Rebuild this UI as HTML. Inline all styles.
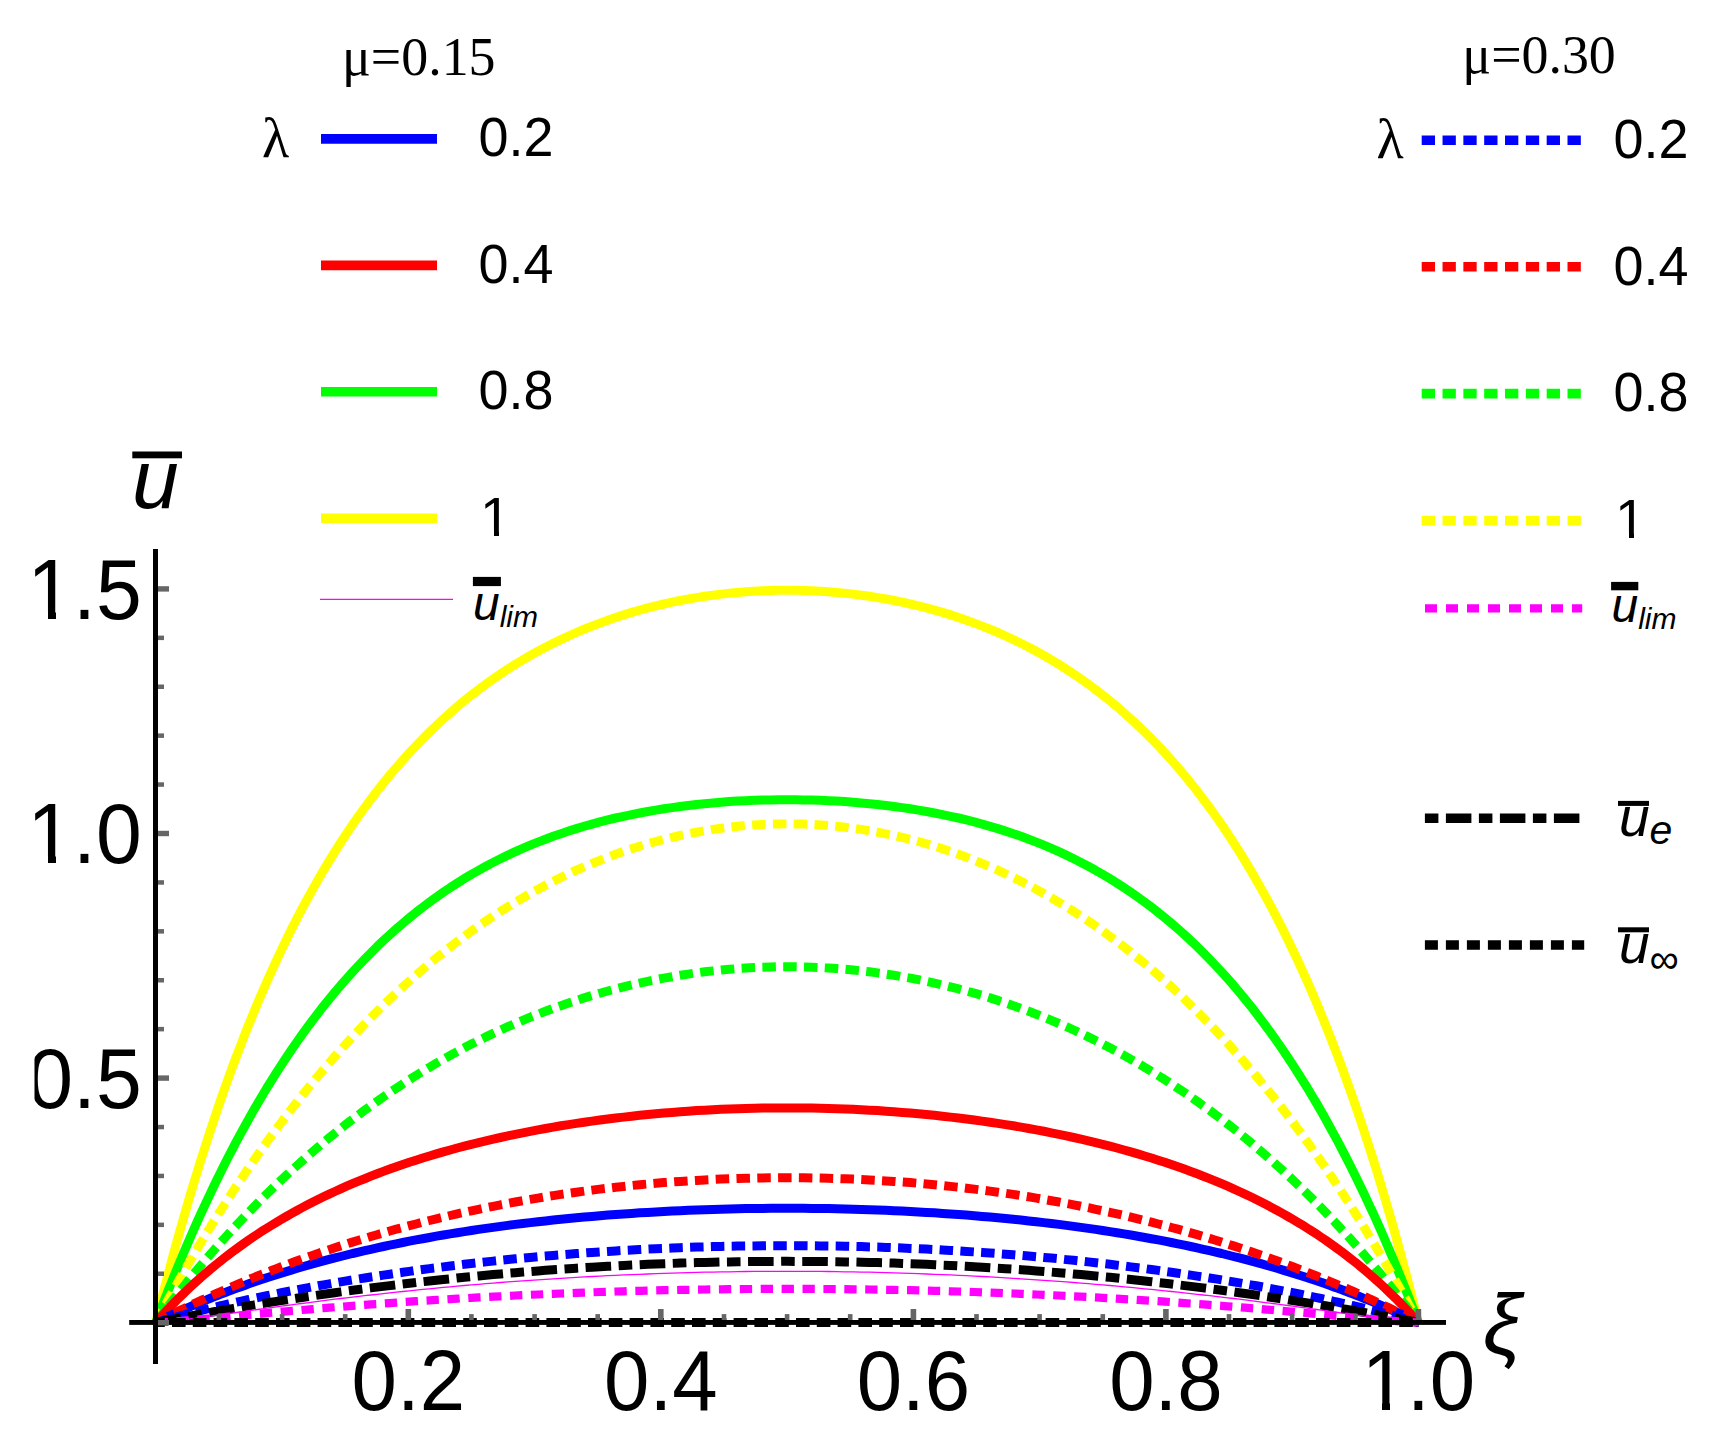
<!DOCTYPE html>
<html><head><meta charset="utf-8"><title>plot</title>
<style>
html,body{margin:0;padding:0;background:#fff}
svg{display:block}
.sans{font-family:"Liberation Sans",Arial,sans-serif}
.serif{font-family:"Liberation Serif","Times New Roman",serif}
.it{font-style:italic}
</style></head><body>
<svg width="1715" height="1440" viewBox="0 0 1715 1440">
<rect width="1715" height="1440" fill="#fff"/>
<defs><clipPath id="cy"><rect x="34.5" y="500" width="130" height="700"/></clipPath></defs>
<g fill="none" stroke-linecap="butt" stroke-linejoin="round">
<path d="M155.8 1322.5 L155.9 1322.3 L156.0 1321.6 L156.3 1320.5 L156.7 1319.0 L157.2 1317.0 L157.7 1314.7 L158.4 1311.9 L159.3 1308.6 L160.2 1305.0 L161.2 1300.9 L162.3 1296.5 L163.6 1291.7 L164.9 1286.5 L166.4 1280.9 L167.9 1274.9 L169.6 1268.6 L171.4 1262.0 L173.2 1255.0 L175.2 1247.7 L177.3 1240.2 L179.5 1232.3 L181.8 1224.1 L184.2 1215.7 L186.7 1207.0 L189.3 1198.1 L192.0 1189.0 L194.8 1179.7 L197.7 1170.2 L200.7 1160.5 L203.9 1150.6 L207.1 1140.6 L210.4 1130.4 L213.8 1120.1 L217.3 1109.8 L220.9 1099.3 L224.6 1088.7 L228.4 1078.1 L232.3 1067.4 L236.3 1056.7 L240.4 1046.0 L244.6 1035.2 L248.8 1024.5 L253.2 1013.8 L257.6 1003.0 L262.2 992.4 L266.8 981.7 L271.6 971.1 L276.4 960.6 L281.3 950.2 L286.3 939.8 L291.3 929.6 L296.5 919.4 L301.7 909.3 L307.1 899.4 L312.5 889.6 L318.0 879.9 L323.5 870.3 L329.2 860.9 L334.9 851.6 L340.7 842.5 L346.6 833.5 L352.5 824.7 L358.6 816.0 L364.7 807.5 L370.9 799.2 L377.1 791.0 L383.4 783.1 L389.8 775.2 L396.3 767.6 L402.8 760.1 L409.4 752.8 L416.0 745.7 L422.7 738.8 L429.5 732.0 L436.4 725.4 L443.3 719.0 L450.2 712.8 L457.2 706.7 L464.3 700.8 L471.4 695.1 L478.6 689.6 L485.9 684.2 L493.2 679.0 L500.5 674.0 L507.9 669.1 L515.3 664.4 L522.8 659.9 L530.3 655.5 L537.9 651.3 L545.5 647.2 L553.2 643.3 L560.9 639.6 L568.6 636.0 L576.4 632.5 L584.2 629.2 L592.0 626.1 L599.9 623.1 L607.8 620.2 L615.7 617.5 L623.7 614.9 L631.7 612.4 L639.7 610.1 L647.8 607.9 L655.8 605.9 L663.9 604.0 L672.1 602.2 L680.2 600.5 L688.3 599.0 L696.5 597.6 L704.7 596.3 L712.9 595.2 L721.1 594.1 L729.3 593.2 L737.6 592.4 L745.8 591.8 L754.1 591.2 L762.3 590.8 L770.6 590.5 L778.8 590.3 L787.1 590.3 L795.4 590.3 L803.6 590.5 L811.9 590.8 L820.1 591.2 L828.4 591.8 L836.6 592.4 L844.9 593.2 L853.1 594.1 L861.3 595.2 L869.5 596.3 L877.7 597.6 L885.9 599.0 L894.0 600.5 L902.1 602.2 L910.3 604.0 L918.4 605.9 L926.4 607.9 L934.5 610.1 L942.5 612.4 L950.5 614.9 L958.5 617.5 L966.4 620.2 L974.3 623.1 L982.2 626.1 L990.0 629.2 L997.8 632.5 L1005.6 636.0 L1013.3 639.6 L1021.0 643.3 L1028.7 647.2 L1036.3 651.3 L1043.9 655.5 L1051.4 659.9 L1058.9 664.4 L1066.3 669.1 L1073.7 674.0 L1081.0 679.0 L1088.3 684.2 L1095.6 689.6 L1102.7 695.1 L1109.9 700.8 L1117.0 706.7 L1124.0 712.8 L1130.9 719.0 L1137.8 725.4 L1144.7 732.0 L1151.5 738.8 L1158.2 745.7 L1164.8 752.8 L1171.4 760.1 L1177.9 767.6 L1184.4 775.2 L1190.8 783.1 L1197.1 791.0 L1203.3 799.2 L1209.5 807.5 L1215.6 816.0 L1221.7 824.7 L1227.6 833.5 L1233.5 842.5 L1239.3 851.6 L1245.0 860.9 L1250.7 870.3 L1256.2 879.9 L1261.7 889.6 L1267.1 899.4 L1272.5 909.3 L1277.7 919.4 L1282.9 929.6 L1287.9 939.8 L1292.9 950.2 L1297.8 960.6 L1302.6 971.1 L1307.4 981.7 L1312.0 992.4 L1316.6 1003.0 L1321.0 1013.8 L1325.4 1024.5 L1329.6 1035.2 L1333.8 1046.0 L1337.9 1056.7 L1341.9 1067.4 L1345.8 1078.1 L1349.6 1088.7 L1353.3 1099.3 L1356.9 1109.8 L1360.4 1120.1 L1363.8 1130.4 L1367.1 1140.6 L1370.3 1150.6 L1373.5 1160.5 L1376.5 1170.2 L1379.4 1179.7 L1382.2 1189.0 L1384.9 1198.1 L1387.5 1207.0 L1390.0 1215.7 L1392.4 1224.1 L1394.7 1232.3 L1396.9 1240.2 L1399.0 1247.7 L1401.0 1255.0 L1402.8 1262.0 L1404.6 1268.6 L1406.3 1274.9 L1407.8 1280.9 L1409.3 1286.5 L1410.6 1291.7 L1411.9 1296.5 L1413.0 1300.9 L1414.0 1305.0 L1414.9 1308.6 L1415.8 1311.9 L1416.5 1314.7 L1417.0 1317.0 L1417.5 1319.0 L1417.9 1320.5 L1418.2 1321.6 L1418.3 1322.3 L1418.4 1322.5" stroke="#ffff00" stroke-width="9"/>
<path d="M155.8 1322.5 L155.9 1322.4 L156.0 1321.9 L156.3 1321.2 L156.7 1320.2 L157.2 1318.9 L157.7 1317.4 L158.4 1315.5 L159.3 1313.4 L160.2 1311.0 L161.2 1308.4 L162.3 1305.4 L163.6 1302.3 L164.9 1298.8 L166.4 1295.1 L167.9 1291.2 L169.6 1287.0 L171.4 1282.6 L173.2 1278.0 L175.2 1273.1 L177.3 1268.0 L179.5 1262.8 L181.8 1257.3 L184.2 1251.6 L186.7 1245.8 L189.3 1239.7 L192.0 1233.5 L194.8 1227.2 L197.7 1220.7 L200.7 1214.0 L203.9 1207.3 L207.1 1200.3 L210.4 1193.3 L213.8 1186.2 L217.3 1179.0 L220.9 1171.7 L224.6 1164.3 L228.4 1156.8 L232.3 1149.3 L236.3 1141.7 L240.4 1134.1 L244.6 1126.5 L248.8 1118.8 L253.2 1111.1 L257.6 1103.4 L262.2 1095.7 L266.8 1088.0 L271.6 1080.4 L276.4 1072.7 L281.3 1065.1 L286.3 1057.5 L291.3 1050.0 L296.5 1042.5 L301.7 1035.1 L307.1 1027.7 L312.5 1020.5 L318.0 1013.3 L323.5 1006.1 L329.2 999.1 L334.9 992.2 L340.7 985.3 L346.6 978.6 L352.5 972.0 L358.6 965.5 L364.7 959.1 L370.9 952.8 L377.1 946.6 L383.4 940.6 L389.8 934.7 L396.3 928.9 L402.8 923.3 L409.4 917.8 L416.0 912.4 L422.7 907.2 L429.5 902.1 L436.4 897.1 L443.3 892.3 L450.2 887.6 L457.2 883.1 L464.3 878.7 L471.4 874.4 L478.6 870.3 L485.9 866.3 L493.2 862.4 L500.5 858.7 L507.9 855.1 L515.3 851.7 L522.8 848.4 L530.3 845.2 L537.9 842.1 L545.5 839.2 L553.2 836.3 L560.9 833.7 L568.6 831.1 L576.4 828.6 L584.2 826.3 L592.0 824.1 L599.9 821.9 L607.8 819.9 L615.7 818.0 L623.7 816.3 L631.7 814.6 L639.7 813.0 L647.8 811.5 L655.8 810.1 L663.9 808.8 L672.1 807.6 L680.2 806.5 L688.3 805.5 L696.5 804.5 L704.7 803.7 L712.9 802.9 L721.1 802.2 L729.3 801.6 L737.6 801.1 L745.8 800.7 L754.1 800.3 L762.3 800.0 L770.6 799.9 L778.8 799.7 L787.1 799.7 L795.4 799.7 L803.6 799.9 L811.9 800.0 L820.1 800.3 L828.4 800.7 L836.6 801.1 L844.9 801.6 L853.1 802.2 L861.3 802.9 L869.5 803.7 L877.7 804.5 L885.9 805.5 L894.0 806.5 L902.1 807.6 L910.3 808.8 L918.4 810.1 L926.4 811.5 L934.5 813.0 L942.5 814.6 L950.5 816.3 L958.5 818.0 L966.4 819.9 L974.3 821.9 L982.2 824.1 L990.0 826.3 L997.8 828.6 L1005.6 831.1 L1013.3 833.7 L1021.0 836.3 L1028.7 839.2 L1036.3 842.1 L1043.9 845.2 L1051.4 848.4 L1058.9 851.7 L1066.3 855.1 L1073.7 858.7 L1081.0 862.4 L1088.3 866.3 L1095.6 870.3 L1102.7 874.4 L1109.9 878.7 L1117.0 883.1 L1124.0 887.6 L1130.9 892.3 L1137.8 897.1 L1144.7 902.1 L1151.5 907.2 L1158.2 912.4 L1164.8 917.8 L1171.4 923.3 L1177.9 928.9 L1184.4 934.7 L1190.8 940.6 L1197.1 946.6 L1203.3 952.8 L1209.5 959.1 L1215.6 965.5 L1221.7 972.0 L1227.6 978.6 L1233.5 985.3 L1239.3 992.2 L1245.0 999.1 L1250.7 1006.1 L1256.2 1013.3 L1261.7 1020.5 L1267.1 1027.7 L1272.5 1035.1 L1277.7 1042.5 L1282.9 1050.0 L1287.9 1057.5 L1292.9 1065.1 L1297.8 1072.7 L1302.6 1080.4 L1307.4 1088.0 L1312.0 1095.7 L1316.6 1103.4 L1321.0 1111.1 L1325.4 1118.8 L1329.6 1126.5 L1333.8 1134.1 L1337.9 1141.7 L1341.9 1149.3 L1345.8 1156.8 L1349.6 1164.3 L1353.3 1171.7 L1356.9 1179.0 L1360.4 1186.2 L1363.8 1193.3 L1367.1 1200.3 L1370.3 1207.3 L1373.5 1214.0 L1376.5 1220.7 L1379.4 1227.2 L1382.2 1233.5 L1384.9 1239.7 L1387.5 1245.8 L1390.0 1251.6 L1392.4 1257.3 L1394.7 1262.8 L1396.9 1268.0 L1399.0 1273.1 L1401.0 1278.0 L1402.8 1282.6 L1404.6 1287.0 L1406.3 1291.2 L1407.8 1295.1 L1409.3 1298.8 L1410.6 1302.3 L1411.9 1305.4 L1413.0 1308.4 L1414.0 1311.0 L1414.9 1313.4 L1415.8 1315.5 L1416.5 1317.4 L1417.0 1318.9 L1417.5 1320.2 L1417.9 1321.2 L1418.2 1321.9 L1418.3 1322.4 L1418.4 1322.5" stroke="#00ff00" stroke-width="9"/>
<path d="M155.8 1322.5 L155.9 1322.4 L156.0 1322.1 L156.3 1321.6 L156.7 1320.9 L157.2 1320.0 L157.7 1318.8 L158.4 1317.5 L159.3 1316.0 L160.2 1314.3 L161.2 1312.4 L162.3 1310.3 L163.6 1308.0 L164.9 1305.6 L166.4 1302.9 L167.9 1300.0 L169.6 1297.0 L171.4 1293.8 L173.2 1290.4 L175.2 1286.9 L177.3 1283.2 L179.5 1279.3 L181.8 1275.2 L184.2 1271.1 L186.7 1266.7 L189.3 1262.2 L192.0 1257.6 L194.8 1252.8 L197.7 1247.9 L200.7 1242.8 L203.9 1237.7 L207.1 1232.4 L210.4 1227.0 L213.8 1221.4 L217.3 1215.8 L220.9 1210.1 L224.6 1204.3 L228.4 1198.4 L232.3 1192.4 L236.3 1186.3 L240.4 1180.2 L244.6 1174.0 L248.8 1167.7 L253.2 1161.3 L257.6 1155.0 L262.2 1148.5 L266.8 1142.0 L271.6 1135.5 L276.4 1129.0 L281.3 1122.4 L286.3 1115.8 L291.3 1109.2 L296.5 1102.6 L301.7 1095.9 L307.1 1089.3 L312.5 1082.7 L318.0 1076.1 L323.5 1069.5 L329.2 1062.9 L334.9 1056.3 L340.7 1049.8 L346.6 1043.3 L352.5 1036.8 L358.6 1030.4 L364.7 1024.0 L370.9 1017.7 L377.1 1011.4 L383.4 1005.2 L389.8 999.0 L396.3 992.9 L402.8 986.9 L409.4 981.0 L416.0 975.1 L422.7 969.3 L429.5 963.6 L436.4 957.9 L443.3 952.4 L450.2 946.9 L457.2 941.5 L464.3 936.3 L471.4 931.1 L478.6 926.0 L485.9 921.1 L493.2 916.2 L500.5 911.4 L507.9 906.8 L515.3 902.3 L522.8 897.8 L530.3 893.5 L537.9 889.4 L545.5 885.3 L553.2 881.3 L560.9 877.5 L568.6 873.8 L576.4 870.2 L584.2 866.8 L592.0 863.5 L599.9 860.3 L607.8 857.2 L615.7 854.3 L623.7 851.4 L631.7 848.8 L639.7 846.2 L647.8 843.8 L655.8 841.5 L663.9 839.4 L672.1 837.4 L680.2 835.5 L688.3 833.8 L696.5 832.2 L704.7 830.8 L712.9 829.4 L721.1 828.3 L729.3 827.2 L737.6 826.3 L745.8 825.5 L754.1 824.9 L762.3 824.4 L770.6 824.1 L778.8 823.9 L787.1 823.8 L795.4 823.9 L803.6 824.1 L811.9 824.4 L820.1 824.9 L828.4 825.5 L836.6 826.3 L844.9 827.2 L853.1 828.3 L861.3 829.4 L869.5 830.8 L877.7 832.2 L885.9 833.8 L894.0 835.5 L902.1 837.4 L910.3 839.4 L918.4 841.5 L926.4 843.8 L934.5 846.2 L942.5 848.8 L950.5 851.4 L958.5 854.3 L966.4 857.2 L974.3 860.3 L982.2 863.5 L990.0 866.8 L997.8 870.2 L1005.6 873.8 L1013.3 877.5 L1021.0 881.3 L1028.7 885.3 L1036.3 889.4 L1043.9 893.5 L1051.4 897.8 L1058.9 902.3 L1066.3 906.8 L1073.7 911.4 L1081.0 916.2 L1088.3 921.1 L1095.6 926.0 L1102.7 931.1 L1109.9 936.3 L1117.0 941.5 L1124.0 946.9 L1130.9 952.4 L1137.8 957.9 L1144.7 963.6 L1151.5 969.3 L1158.2 975.1 L1164.8 981.0 L1171.4 986.9 L1177.9 992.9 L1184.4 999.0 L1190.8 1005.2 L1197.1 1011.4 L1203.3 1017.7 L1209.5 1024.0 L1215.6 1030.4 L1221.7 1036.8 L1227.6 1043.3 L1233.5 1049.8 L1239.3 1056.3 L1245.0 1062.9 L1250.7 1069.5 L1256.2 1076.1 L1261.7 1082.7 L1267.1 1089.3 L1272.5 1095.9 L1277.7 1102.6 L1282.9 1109.2 L1287.9 1115.8 L1292.9 1122.4 L1297.8 1129.0 L1302.6 1135.5 L1307.4 1142.0 L1312.0 1148.5 L1316.6 1155.0 L1321.0 1161.3 L1325.4 1167.7 L1329.6 1174.0 L1333.8 1180.2 L1337.9 1186.3 L1341.9 1192.4 L1345.8 1198.4 L1349.6 1204.3 L1353.3 1210.1 L1356.9 1215.8 L1360.4 1221.4 L1363.8 1227.0 L1367.1 1232.4 L1370.3 1237.7 L1373.5 1242.8 L1376.5 1247.9 L1379.4 1252.8 L1382.2 1257.6 L1384.9 1262.2 L1387.5 1266.7 L1390.0 1271.1 L1392.4 1275.2 L1394.7 1279.3 L1396.9 1283.2 L1399.0 1286.9 L1401.0 1290.4 L1402.8 1293.8 L1404.6 1297.0 L1406.3 1300.0 L1407.8 1302.9 L1409.3 1305.6 L1410.6 1308.0 L1411.9 1310.3 L1413.0 1312.4 L1414.0 1314.3 L1414.9 1316.0 L1415.8 1317.5 L1416.5 1318.8 L1417.0 1320.0 L1417.5 1320.9 L1417.9 1321.6 L1418.2 1322.1 L1418.3 1322.4 L1418.4 1322.5" stroke="#ffff00" stroke-width="9" stroke-dasharray="13.5 7.3"/>
<path d="M155.8 1322.5 L155.9 1322.4 L156.0 1322.2 L156.3 1321.8 L156.7 1321.3 L157.2 1320.7 L157.7 1319.9 L158.4 1318.9 L159.3 1317.9 L160.2 1316.6 L161.2 1315.3 L162.3 1313.8 L163.6 1312.1 L164.9 1310.4 L166.4 1308.5 L167.9 1306.4 L169.6 1304.3 L171.4 1302.0 L173.2 1299.6 L175.2 1297.0 L177.3 1294.4 L179.5 1291.6 L181.8 1288.7 L184.2 1285.7 L186.7 1282.6 L189.3 1279.4 L192.0 1276.1 L194.8 1272.7 L197.7 1269.2 L200.7 1265.6 L203.9 1261.9 L207.1 1258.1 L210.4 1254.3 L213.8 1250.3 L217.3 1246.3 L220.9 1242.3 L224.6 1238.1 L228.4 1233.9 L232.3 1229.7 L236.3 1225.4 L240.4 1221.0 L244.6 1216.6 L248.8 1212.1 L253.2 1207.6 L257.6 1203.1 L262.2 1198.5 L266.8 1193.9 L271.6 1189.3 L276.4 1184.7 L281.3 1180.0 L286.3 1175.3 L291.3 1170.6 L296.5 1166.0 L301.7 1161.3 L307.1 1156.6 L312.5 1151.9 L318.0 1147.2 L323.5 1142.5 L329.2 1137.8 L334.9 1133.2 L340.7 1128.5 L346.6 1123.9 L352.5 1119.3 L358.6 1114.8 L364.7 1110.2 L370.9 1105.8 L377.1 1101.3 L383.4 1096.9 L389.8 1092.5 L396.3 1088.2 L402.8 1083.9 L409.4 1079.6 L416.0 1075.5 L422.7 1071.3 L429.5 1067.3 L436.4 1063.2 L443.3 1059.3 L450.2 1055.4 L457.2 1051.6 L464.3 1047.8 L471.4 1044.1 L478.6 1040.5 L485.9 1036.9 L493.2 1033.4 L500.5 1030.0 L507.9 1026.7 L515.3 1023.5 L522.8 1020.3 L530.3 1017.2 L537.9 1014.2 L545.5 1011.3 L553.2 1008.4 L560.9 1005.7 L568.6 1003.0 L576.4 1000.4 L584.2 997.9 L592.0 995.5 L599.9 993.2 L607.8 991.0 L615.7 988.9 L623.7 986.9 L631.7 984.9 L639.7 983.1 L647.8 981.3 L655.8 979.7 L663.9 978.1 L672.1 976.7 L680.2 975.3 L688.3 974.1 L696.5 972.9 L704.7 971.8 L712.9 970.9 L721.1 970.0 L729.3 969.3 L737.6 968.6 L745.8 968.1 L754.1 967.6 L762.3 967.2 L770.6 967.0 L778.8 966.8 L787.1 966.8 L795.4 966.8 L803.6 967.0 L811.9 967.2 L820.1 967.6 L828.4 968.1 L836.6 968.6 L844.9 969.3 L853.1 970.0 L861.3 970.9 L869.5 971.8 L877.7 972.9 L885.9 974.1 L894.0 975.3 L902.1 976.7 L910.3 978.1 L918.4 979.7 L926.4 981.3 L934.5 983.1 L942.5 984.9 L950.5 986.9 L958.5 988.9 L966.4 991.0 L974.3 993.2 L982.2 995.5 L990.0 997.9 L997.8 1000.4 L1005.6 1003.0 L1013.3 1005.7 L1021.0 1008.4 L1028.7 1011.3 L1036.3 1014.2 L1043.9 1017.2 L1051.4 1020.3 L1058.9 1023.5 L1066.3 1026.7 L1073.7 1030.0 L1081.0 1033.4 L1088.3 1036.9 L1095.6 1040.5 L1102.7 1044.1 L1109.9 1047.8 L1117.0 1051.6 L1124.0 1055.4 L1130.9 1059.3 L1137.8 1063.2 L1144.7 1067.3 L1151.5 1071.3 L1158.2 1075.5 L1164.8 1079.6 L1171.4 1083.9 L1177.9 1088.2 L1184.4 1092.5 L1190.8 1096.9 L1197.1 1101.3 L1203.3 1105.8 L1209.5 1110.2 L1215.6 1114.8 L1221.7 1119.3 L1227.6 1123.9 L1233.5 1128.5 L1239.3 1133.2 L1245.0 1137.8 L1250.7 1142.5 L1256.2 1147.2 L1261.7 1151.9 L1267.1 1156.6 L1272.5 1161.3 L1277.7 1166.0 L1282.9 1170.6 L1287.9 1175.3 L1292.9 1180.0 L1297.8 1184.7 L1302.6 1189.3 L1307.4 1193.9 L1312.0 1198.5 L1316.6 1203.1 L1321.0 1207.6 L1325.4 1212.1 L1329.6 1216.6 L1333.8 1221.0 L1337.9 1225.4 L1341.9 1229.7 L1345.8 1233.9 L1349.6 1238.1 L1353.3 1242.3 L1356.9 1246.3 L1360.4 1250.3 L1363.8 1254.3 L1367.1 1258.1 L1370.3 1261.9 L1373.5 1265.6 L1376.5 1269.2 L1379.4 1272.7 L1382.2 1276.1 L1384.9 1279.4 L1387.5 1282.6 L1390.0 1285.7 L1392.4 1288.7 L1394.7 1291.6 L1396.9 1294.4 L1399.0 1297.0 L1401.0 1299.6 L1402.8 1302.0 L1404.6 1304.3 L1406.3 1306.4 L1407.8 1308.5 L1409.3 1310.4 L1410.6 1312.1 L1411.9 1313.8 L1413.0 1315.3 L1414.0 1316.6 L1414.9 1317.9 L1415.8 1318.9 L1416.5 1319.9 L1417.0 1320.7 L1417.5 1321.3 L1417.9 1321.8 L1418.2 1322.2 L1418.3 1322.4 L1418.4 1322.5" stroke="#00ff00" stroke-width="9" stroke-dasharray="13.5 7.3"/>
<path d="M155.8 1322.5 L155.9 1322.4 L156.0 1322.3 L156.3 1322.0 L156.7 1321.5 L157.2 1321.0 L157.7 1320.3 L158.4 1319.5 L159.3 1318.6 L160.2 1317.6 L161.2 1316.5 L162.3 1315.3 L163.6 1313.9 L164.9 1312.5 L166.4 1310.9 L167.9 1309.3 L169.6 1307.5 L171.4 1305.7 L173.2 1303.8 L175.2 1301.7 L177.3 1299.6 L179.5 1297.5 L181.8 1295.2 L184.2 1292.9 L186.7 1290.5 L189.3 1288.0 L192.0 1285.5 L194.8 1282.9 L197.7 1280.3 L200.7 1277.6 L203.9 1274.9 L207.1 1272.1 L210.4 1269.3 L213.8 1266.5 L217.3 1263.6 L220.9 1260.7 L224.6 1257.8 L228.4 1254.9 L232.3 1251.9 L236.3 1249.0 L240.4 1246.0 L244.6 1243.0 L248.8 1240.0 L253.2 1237.1 L257.6 1234.1 L262.2 1231.1 L266.8 1228.2 L271.6 1225.2 L276.4 1222.3 L281.3 1219.4 L286.3 1216.5 L291.3 1213.6 L296.5 1210.7 L301.7 1207.9 L307.1 1205.1 L312.5 1202.3 L318.0 1199.5 L323.5 1196.8 L329.2 1194.1 L334.9 1191.5 L340.7 1188.8 L346.6 1186.2 L352.5 1183.7 L358.6 1181.1 L364.7 1178.7 L370.9 1176.2 L377.1 1173.8 L383.4 1171.4 L389.8 1169.1 L396.3 1166.8 L402.8 1164.6 L409.4 1162.3 L416.0 1160.2 L422.7 1158.0 L429.5 1156.0 L436.4 1153.9 L443.3 1151.9 L450.2 1150.0 L457.2 1148.0 L464.3 1146.2 L471.4 1144.3 L478.6 1142.6 L485.9 1140.8 L493.2 1139.1 L500.5 1137.5 L507.9 1135.9 L515.3 1134.3 L522.8 1132.8 L530.3 1131.3 L537.9 1129.9 L545.5 1128.5 L553.2 1127.1 L560.9 1125.8 L568.6 1124.6 L576.4 1123.4 L584.2 1122.2 L592.0 1121.1 L599.9 1120.0 L607.8 1119.0 L615.7 1118.0 L623.7 1117.1 L631.7 1116.2 L639.7 1115.3 L647.8 1114.5 L655.8 1113.8 L663.9 1113.0 L672.1 1112.4 L680.2 1111.8 L688.3 1111.2 L696.5 1110.6 L704.7 1110.2 L712.9 1109.7 L721.1 1109.3 L729.3 1109.0 L737.6 1108.7 L745.8 1108.4 L754.1 1108.2 L762.3 1108.1 L770.6 1107.9 L778.8 1107.9 L787.1 1107.9 L795.4 1107.9 L803.6 1107.9 L811.9 1108.1 L820.1 1108.2 L828.4 1108.4 L836.6 1108.7 L844.9 1109.0 L853.1 1109.3 L861.3 1109.7 L869.5 1110.2 L877.7 1110.6 L885.9 1111.2 L894.0 1111.8 L902.1 1112.4 L910.3 1113.0 L918.4 1113.8 L926.4 1114.5 L934.5 1115.3 L942.5 1116.2 L950.5 1117.1 L958.5 1118.0 L966.4 1119.0 L974.3 1120.0 L982.2 1121.1 L990.0 1122.2 L997.8 1123.4 L1005.6 1124.6 L1013.3 1125.8 L1021.0 1127.1 L1028.7 1128.5 L1036.3 1129.9 L1043.9 1131.3 L1051.4 1132.8 L1058.9 1134.3 L1066.3 1135.9 L1073.7 1137.5 L1081.0 1139.1 L1088.3 1140.8 L1095.6 1142.6 L1102.7 1144.3 L1109.9 1146.2 L1117.0 1148.0 L1124.0 1150.0 L1130.9 1151.9 L1137.8 1153.9 L1144.7 1156.0 L1151.5 1158.0 L1158.2 1160.2 L1164.8 1162.3 L1171.4 1164.6 L1177.9 1166.8 L1184.4 1169.1 L1190.8 1171.4 L1197.1 1173.8 L1203.3 1176.2 L1209.5 1178.7 L1215.6 1181.1 L1221.7 1183.7 L1227.6 1186.2 L1233.5 1188.8 L1239.3 1191.5 L1245.0 1194.1 L1250.7 1196.8 L1256.2 1199.5 L1261.7 1202.3 L1267.1 1205.1 L1272.5 1207.9 L1277.7 1210.7 L1282.9 1213.6 L1287.9 1216.5 L1292.9 1219.4 L1297.8 1222.3 L1302.6 1225.2 L1307.4 1228.2 L1312.0 1231.1 L1316.6 1234.1 L1321.0 1237.1 L1325.4 1240.0 L1329.6 1243.0 L1333.8 1246.0 L1337.9 1249.0 L1341.9 1251.9 L1345.8 1254.9 L1349.6 1257.8 L1353.3 1260.7 L1356.9 1263.6 L1360.4 1266.5 L1363.8 1269.3 L1367.1 1272.1 L1370.3 1274.9 L1373.5 1277.6 L1376.5 1280.3 L1379.4 1282.9 L1382.2 1285.5 L1384.9 1288.0 L1387.5 1290.5 L1390.0 1292.9 L1392.4 1295.2 L1394.7 1297.5 L1396.9 1299.6 L1399.0 1301.7 L1401.0 1303.8 L1402.8 1305.7 L1404.6 1307.5 L1406.3 1309.3 L1407.8 1310.9 L1409.3 1312.5 L1410.6 1313.9 L1411.9 1315.3 L1413.0 1316.5 L1414.0 1317.6 L1414.9 1318.6 L1415.8 1319.5 L1416.5 1320.3 L1417.0 1321.0 L1417.5 1321.5 L1417.9 1322.0 L1418.2 1322.3 L1418.3 1322.4 L1418.4 1322.5" stroke="#ff0000" stroke-width="9"/>
<path d="M155.8 1322.5 L155.9 1322.5 L156.0 1322.4 L156.3 1322.3 L156.7 1322.1 L157.2 1321.8 L157.7 1321.6 L158.4 1321.2 L159.3 1320.8 L160.2 1320.4 L161.2 1319.9 L162.3 1319.3 L163.6 1318.8 L164.9 1318.1 L166.4 1317.4 L167.9 1316.7 L169.6 1315.9 L171.4 1315.1 L173.2 1314.2 L175.2 1313.3 L177.3 1312.4 L179.5 1311.4 L181.8 1310.4 L184.2 1309.3 L186.7 1308.2 L189.3 1307.1 L192.0 1305.9 L194.8 1304.7 L197.7 1303.5 L200.7 1302.2 L203.9 1300.9 L207.1 1299.6 L210.4 1298.3 L213.8 1296.9 L217.3 1295.5 L220.9 1294.1 L224.6 1292.7 L228.4 1291.3 L232.3 1289.8 L236.3 1288.3 L240.4 1286.9 L244.6 1285.4 L248.8 1283.8 L253.2 1282.3 L257.6 1280.8 L262.2 1279.3 L266.8 1277.7 L271.6 1276.2 L276.4 1274.7 L281.3 1273.1 L286.3 1271.6 L291.3 1270.1 L296.5 1268.5 L301.7 1267.0 L307.1 1265.5 L312.5 1263.9 L318.0 1262.4 L323.5 1260.9 L329.2 1259.4 L334.9 1257.9 L340.7 1256.5 L346.6 1255.0 L352.5 1253.5 L358.6 1252.1 L364.7 1250.7 L370.9 1249.3 L377.1 1247.9 L383.4 1246.5 L389.8 1245.2 L396.3 1243.8 L402.8 1242.5 L409.4 1241.2 L416.0 1239.9 L422.7 1238.7 L429.5 1237.5 L436.4 1236.2 L443.3 1235.0 L450.2 1233.9 L457.2 1232.7 L464.3 1231.6 L471.4 1230.5 L478.6 1229.4 L485.9 1228.4 L493.2 1227.4 L500.5 1226.4 L507.9 1225.4 L515.3 1224.4 L522.8 1223.5 L530.3 1222.6 L537.9 1221.7 L545.5 1220.9 L553.2 1220.1 L560.9 1219.3 L568.6 1218.5 L576.4 1217.8 L584.2 1217.1 L592.0 1216.4 L599.9 1215.7 L607.8 1215.1 L615.7 1214.5 L623.7 1213.9 L631.7 1213.4 L639.7 1212.8 L647.8 1212.4 L655.8 1211.9 L663.9 1211.5 L672.1 1211.0 L680.2 1210.7 L688.3 1210.3 L696.5 1210.0 L704.7 1209.7 L712.9 1209.4 L721.1 1209.2 L729.3 1209.0 L737.6 1208.8 L745.8 1208.6 L754.1 1208.5 L762.3 1208.4 L770.6 1208.3 L778.8 1208.3 L787.1 1208.3 L795.4 1208.3 L803.6 1208.3 L811.9 1208.4 L820.1 1208.5 L828.4 1208.6 L836.6 1208.8 L844.9 1209.0 L853.1 1209.2 L861.3 1209.4 L869.5 1209.7 L877.7 1210.0 L885.9 1210.3 L894.0 1210.7 L902.1 1211.0 L910.3 1211.5 L918.4 1211.9 L926.4 1212.4 L934.5 1212.8 L942.5 1213.4 L950.5 1213.9 L958.5 1214.5 L966.4 1215.1 L974.3 1215.7 L982.2 1216.4 L990.0 1217.1 L997.8 1217.8 L1005.6 1218.5 L1013.3 1219.3 L1021.0 1220.1 L1028.7 1220.9 L1036.3 1221.7 L1043.9 1222.6 L1051.4 1223.5 L1058.9 1224.4 L1066.3 1225.4 L1073.7 1226.4 L1081.0 1227.4 L1088.3 1228.4 L1095.6 1229.4 L1102.7 1230.5 L1109.9 1231.6 L1117.0 1232.7 L1124.0 1233.9 L1130.9 1235.0 L1137.8 1236.2 L1144.7 1237.5 L1151.5 1238.7 L1158.2 1239.9 L1164.8 1241.2 L1171.4 1242.5 L1177.9 1243.8 L1184.4 1245.2 L1190.8 1246.5 L1197.1 1247.9 L1203.3 1249.3 L1209.5 1250.7 L1215.6 1252.1 L1221.7 1253.5 L1227.6 1255.0 L1233.5 1256.5 L1239.3 1257.9 L1245.0 1259.4 L1250.7 1260.9 L1256.2 1262.4 L1261.7 1263.9 L1267.1 1265.5 L1272.5 1267.0 L1277.7 1268.5 L1282.9 1270.1 L1287.9 1271.6 L1292.9 1273.1 L1297.8 1274.7 L1302.6 1276.2 L1307.4 1277.7 L1312.0 1279.3 L1316.6 1280.8 L1321.0 1282.3 L1325.4 1283.8 L1329.6 1285.4 L1333.8 1286.9 L1337.9 1288.3 L1341.9 1289.8 L1345.8 1291.3 L1349.6 1292.7 L1353.3 1294.1 L1356.9 1295.5 L1360.4 1296.9 L1363.8 1298.3 L1367.1 1299.6 L1370.3 1300.9 L1373.5 1302.2 L1376.5 1303.5 L1379.4 1304.7 L1382.2 1305.9 L1384.9 1307.1 L1387.5 1308.2 L1390.0 1309.3 L1392.4 1310.4 L1394.7 1311.4 L1396.9 1312.4 L1399.0 1313.3 L1401.0 1314.2 L1402.8 1315.1 L1404.6 1315.9 L1406.3 1316.7 L1407.8 1317.4 L1409.3 1318.1 L1410.6 1318.8 L1411.9 1319.3 L1413.0 1319.9 L1414.0 1320.4 L1414.9 1320.8 L1415.8 1321.2 L1416.5 1321.6 L1417.0 1321.8 L1417.5 1322.1 L1417.9 1322.3 L1418.2 1322.4 L1418.3 1322.5 L1418.4 1322.5" stroke="#0000ff" stroke-width="9"/>
<path d="M155.8 1322.5 L155.9 1322.5 L156.0 1322.4 L156.3 1322.3 L156.7 1322.1 L157.2 1321.8 L157.7 1321.5 L158.4 1321.1 L159.3 1320.7 L160.2 1320.3 L161.2 1319.7 L162.3 1319.2 L163.6 1318.5 L164.9 1317.9 L166.4 1317.1 L167.9 1316.4 L169.6 1315.5 L171.4 1314.7 L173.2 1313.7 L175.2 1312.8 L177.3 1311.7 L179.5 1310.7 L181.8 1309.6 L184.2 1308.4 L186.7 1307.2 L189.3 1306.0 L192.0 1304.7 L194.8 1303.4 L197.7 1302.0 L200.7 1300.6 L203.9 1299.2 L207.1 1297.7 L210.4 1296.2 L213.8 1294.7 L217.3 1293.1 L220.9 1291.5 L224.6 1289.9 L228.4 1288.2 L232.3 1286.6 L236.3 1284.9 L240.4 1283.1 L244.6 1281.4 L248.8 1279.6 L253.2 1277.8 L257.6 1276.0 L262.2 1274.2 L266.8 1272.4 L271.6 1270.5 L276.4 1268.7 L281.3 1266.8 L286.3 1264.9 L291.3 1263.0 L296.5 1261.1 L301.7 1259.2 L307.1 1257.3 L312.5 1255.4 L318.0 1253.5 L323.5 1251.6 L329.2 1249.7 L334.9 1247.8 L340.7 1245.9 L346.6 1244.0 L352.5 1242.1 L358.6 1240.3 L364.7 1238.4 L370.9 1236.5 L377.1 1234.7 L383.4 1232.9 L389.8 1231.0 L396.3 1229.2 L402.8 1227.5 L409.4 1225.7 L416.0 1224.0 L422.7 1222.2 L429.5 1220.5 L436.4 1218.8 L443.3 1217.2 L450.2 1215.5 L457.2 1213.9 L464.3 1212.3 L471.4 1210.8 L478.6 1209.3 L485.9 1207.7 L493.2 1206.3 L500.5 1204.8 L507.9 1203.4 L515.3 1202.0 L522.8 1200.7 L530.3 1199.4 L537.9 1198.1 L545.5 1196.8 L553.2 1195.6 L560.9 1194.4 L568.6 1193.3 L576.4 1192.2 L584.2 1191.1 L592.0 1190.1 L599.9 1189.1 L607.8 1188.2 L615.7 1187.2 L623.7 1186.4 L631.7 1185.5 L639.7 1184.7 L647.8 1184.0 L655.8 1183.3 L663.9 1182.6 L672.1 1182.0 L680.2 1181.4 L688.3 1180.9 L696.5 1180.4 L704.7 1179.9 L712.9 1179.5 L721.1 1179.1 L729.3 1178.8 L737.6 1178.5 L745.8 1178.3 L754.1 1178.1 L762.3 1177.9 L770.6 1177.8 L778.8 1177.7 L787.1 1177.7 L795.4 1177.7 L803.6 1177.8 L811.9 1177.9 L820.1 1178.1 L828.4 1178.3 L836.6 1178.5 L844.9 1178.8 L853.1 1179.1 L861.3 1179.5 L869.5 1179.9 L877.7 1180.4 L885.9 1180.9 L894.0 1181.4 L902.1 1182.0 L910.3 1182.6 L918.4 1183.3 L926.4 1184.0 L934.5 1184.7 L942.5 1185.5 L950.5 1186.4 L958.5 1187.2 L966.4 1188.2 L974.3 1189.1 L982.2 1190.1 L990.0 1191.1 L997.8 1192.2 L1005.6 1193.3 L1013.3 1194.4 L1021.0 1195.6 L1028.7 1196.8 L1036.3 1198.1 L1043.9 1199.4 L1051.4 1200.7 L1058.9 1202.0 L1066.3 1203.4 L1073.7 1204.8 L1081.0 1206.3 L1088.3 1207.7 L1095.6 1209.3 L1102.7 1210.8 L1109.9 1212.3 L1117.0 1213.9 L1124.0 1215.5 L1130.9 1217.2 L1137.8 1218.8 L1144.7 1220.5 L1151.5 1222.2 L1158.2 1224.0 L1164.8 1225.7 L1171.4 1227.5 L1177.9 1229.2 L1184.4 1231.0 L1190.8 1232.9 L1197.1 1234.7 L1203.3 1236.5 L1209.5 1238.4 L1215.6 1240.3 L1221.7 1242.1 L1227.6 1244.0 L1233.5 1245.9 L1239.3 1247.8 L1245.0 1249.7 L1250.7 1251.6 L1256.2 1253.5 L1261.7 1255.4 L1267.1 1257.3 L1272.5 1259.2 L1277.7 1261.1 L1282.9 1263.0 L1287.9 1264.9 L1292.9 1266.8 L1297.8 1268.7 L1302.6 1270.5 L1307.4 1272.4 L1312.0 1274.2 L1316.6 1276.0 L1321.0 1277.8 L1325.4 1279.6 L1329.6 1281.4 L1333.8 1283.1 L1337.9 1284.9 L1341.9 1286.6 L1345.8 1288.2 L1349.6 1289.9 L1353.3 1291.5 L1356.9 1293.1 L1360.4 1294.7 L1363.8 1296.2 L1367.1 1297.7 L1370.3 1299.2 L1373.5 1300.6 L1376.5 1302.0 L1379.4 1303.4 L1382.2 1304.7 L1384.9 1306.0 L1387.5 1307.2 L1390.0 1308.4 L1392.4 1309.6 L1394.7 1310.7 L1396.9 1311.7 L1399.0 1312.8 L1401.0 1313.7 L1402.8 1314.7 L1404.6 1315.5 L1406.3 1316.4 L1407.8 1317.1 L1409.3 1317.9 L1410.6 1318.5 L1411.9 1319.2 L1413.0 1319.7 L1414.0 1320.3 L1414.9 1320.7 L1415.8 1321.1 L1416.5 1321.5 L1417.0 1321.8 L1417.5 1322.1 L1417.9 1322.3 L1418.2 1322.4 L1418.3 1322.5 L1418.4 1322.5" stroke="#ff0000" stroke-width="9" stroke-dasharray="13.5 7.3"/>
<path d="M155.8 1322.5 L155.9 1322.5 L156.0 1322.4 L156.3 1322.4 L156.7 1322.3 L157.2 1322.1 L157.7 1321.9 L158.4 1321.7 L159.3 1321.5 L160.2 1321.3 L161.2 1321.0 L162.3 1320.7 L163.6 1320.3 L164.9 1319.9 L166.4 1319.5 L167.9 1319.1 L169.6 1318.7 L171.4 1318.2 L173.2 1317.7 L175.2 1317.1 L177.3 1316.6 L179.5 1316.0 L181.8 1315.4 L184.2 1314.8 L186.7 1314.1 L189.3 1313.5 L192.0 1312.8 L194.8 1312.1 L197.7 1311.3 L200.7 1310.6 L203.9 1309.8 L207.1 1309.0 L210.4 1308.2 L213.8 1307.4 L217.3 1306.6 L220.9 1305.7 L224.6 1304.9 L228.4 1304.0 L232.3 1303.1 L236.3 1302.2 L240.4 1301.3 L244.6 1300.4 L248.8 1299.5 L253.2 1298.5 L257.6 1297.6 L262.2 1296.6 L266.8 1295.7 L271.6 1294.7 L276.4 1293.7 L281.3 1292.7 L286.3 1291.8 L291.3 1290.8 L296.5 1289.8 L301.7 1288.8 L307.1 1287.8 L312.5 1286.8 L318.0 1285.8 L323.5 1284.9 L329.2 1283.9 L334.9 1282.9 L340.7 1281.9 L346.6 1280.9 L352.5 1279.9 L358.6 1278.9 L364.7 1278.0 L370.9 1277.0 L377.1 1276.1 L383.4 1275.1 L389.8 1274.2 L396.3 1273.2 L402.8 1272.3 L409.4 1271.4 L416.0 1270.4 L422.7 1269.5 L429.5 1268.6 L436.4 1267.8 L443.3 1266.9 L450.2 1266.0 L457.2 1265.2 L464.3 1264.3 L471.4 1263.5 L478.6 1262.7 L485.9 1261.9 L493.2 1261.1 L500.5 1260.3 L507.9 1259.6 L515.3 1258.8 L522.8 1258.1 L530.3 1257.4 L537.9 1256.7 L545.5 1256.1 L553.2 1255.4 L560.9 1254.8 L568.6 1254.2 L576.4 1253.6 L584.2 1253.0 L592.0 1252.4 L599.9 1251.9 L607.8 1251.4 L615.7 1250.9 L623.7 1250.4 L631.7 1250.0 L639.7 1249.5 L647.8 1249.1 L655.8 1248.7 L663.9 1248.4 L672.1 1248.0 L680.2 1247.7 L688.3 1247.4 L696.5 1247.1 L704.7 1246.9 L712.9 1246.6 L721.1 1246.4 L729.3 1246.2 L737.6 1246.1 L745.8 1246.0 L754.1 1245.9 L762.3 1245.8 L770.6 1245.7 L778.8 1245.7 L787.1 1245.7 L795.4 1245.7 L803.6 1245.7 L811.9 1245.8 L820.1 1245.9 L828.4 1246.0 L836.6 1246.1 L844.9 1246.2 L853.1 1246.4 L861.3 1246.6 L869.5 1246.9 L877.7 1247.1 L885.9 1247.4 L894.0 1247.7 L902.1 1248.0 L910.3 1248.4 L918.4 1248.7 L926.4 1249.1 L934.5 1249.5 L942.5 1250.0 L950.5 1250.4 L958.5 1250.9 L966.4 1251.4 L974.3 1251.9 L982.2 1252.4 L990.0 1253.0 L997.8 1253.6 L1005.6 1254.2 L1013.3 1254.8 L1021.0 1255.4 L1028.7 1256.1 L1036.3 1256.7 L1043.9 1257.4 L1051.4 1258.1 L1058.9 1258.8 L1066.3 1259.6 L1073.7 1260.3 L1081.0 1261.1 L1088.3 1261.9 L1095.6 1262.7 L1102.7 1263.5 L1109.9 1264.3 L1117.0 1265.2 L1124.0 1266.0 L1130.9 1266.9 L1137.8 1267.8 L1144.7 1268.6 L1151.5 1269.5 L1158.2 1270.4 L1164.8 1271.4 L1171.4 1272.3 L1177.9 1273.2 L1184.4 1274.2 L1190.8 1275.1 L1197.1 1276.1 L1203.3 1277.0 L1209.5 1278.0 L1215.6 1278.9 L1221.7 1279.9 L1227.6 1280.9 L1233.5 1281.9 L1239.3 1282.9 L1245.0 1283.9 L1250.7 1284.9 L1256.2 1285.8 L1261.7 1286.8 L1267.1 1287.8 L1272.5 1288.8 L1277.7 1289.8 L1282.9 1290.8 L1287.9 1291.8 L1292.9 1292.7 L1297.8 1293.7 L1302.6 1294.7 L1307.4 1295.7 L1312.0 1296.6 L1316.6 1297.6 L1321.0 1298.5 L1325.4 1299.5 L1329.6 1300.4 L1333.8 1301.3 L1337.9 1302.2 L1341.9 1303.1 L1345.8 1304.0 L1349.6 1304.9 L1353.3 1305.7 L1356.9 1306.6 L1360.4 1307.4 L1363.8 1308.2 L1367.1 1309.0 L1370.3 1309.8 L1373.5 1310.6 L1376.5 1311.3 L1379.4 1312.1 L1382.2 1312.8 L1384.9 1313.5 L1387.5 1314.1 L1390.0 1314.8 L1392.4 1315.4 L1394.7 1316.0 L1396.9 1316.6 L1399.0 1317.1 L1401.0 1317.7 L1402.8 1318.2 L1404.6 1318.7 L1406.3 1319.1 L1407.8 1319.5 L1409.3 1319.9 L1410.6 1320.3 L1411.9 1320.7 L1413.0 1321.0 L1414.0 1321.3 L1414.9 1321.5 L1415.8 1321.7 L1416.5 1321.9 L1417.0 1322.1 L1417.5 1322.3 L1417.9 1322.4 L1418.2 1322.4 L1418.3 1322.5 L1418.4 1322.5" stroke="#0000ff" stroke-width="9" stroke-dasharray="13.5 7.3"/>
<path d="M155.8 1322.5 L155.9 1322.5 L156.0 1322.5 L156.3 1322.4 L156.7 1322.3 L157.2 1322.2 L157.7 1322.1 L158.4 1322.0 L159.3 1321.8 L160.2 1321.7 L161.2 1321.5 L162.3 1321.2 L163.6 1321.0 L164.9 1320.7 L166.4 1320.5 L167.9 1320.2 L169.6 1319.9 L171.4 1319.5 L173.2 1319.2 L175.2 1318.8 L177.3 1318.4 L179.5 1318.0 L181.8 1317.6 L184.2 1317.1 L186.7 1316.7 L189.3 1316.2 L192.0 1315.7 L194.8 1315.2 L197.7 1314.6 L200.7 1314.1 L203.9 1313.5 L207.1 1313.0 L210.4 1312.4 L213.8 1311.8 L217.3 1311.2 L220.9 1310.5 L224.6 1309.9 L228.4 1309.2 L232.3 1308.6 L236.3 1307.9 L240.4 1307.2 L244.6 1306.5 L248.8 1305.8 L253.2 1305.1 L257.6 1304.4 L262.2 1303.6 L266.8 1302.9 L271.6 1302.1 L276.4 1301.4 L281.3 1300.6 L286.3 1299.8 L291.3 1299.1 L296.5 1298.3 L301.7 1297.5 L307.1 1296.7 L312.5 1295.9 L318.0 1295.1 L323.5 1294.3 L329.2 1293.5 L334.9 1292.7 L340.7 1291.9 L346.6 1291.1 L352.5 1290.3 L358.6 1289.5 L364.7 1288.7 L370.9 1287.9 L377.1 1287.1 L383.4 1286.4 L389.8 1285.6 L396.3 1284.8 L402.8 1284.0 L409.4 1283.2 L416.0 1282.5 L422.7 1281.7 L429.5 1281.0 L436.4 1280.2 L443.3 1279.5 L450.2 1278.8 L457.2 1278.0 L464.3 1277.3 L471.4 1276.6 L478.6 1275.9 L485.9 1275.3 L493.2 1274.6 L500.5 1274.0 L507.9 1273.3 L515.3 1272.7 L522.8 1272.1 L530.3 1271.5 L537.9 1270.9 L545.5 1270.3 L553.2 1269.7 L560.9 1269.2 L568.6 1268.7 L576.4 1268.2 L584.2 1267.7 L592.0 1267.2 L599.9 1266.7 L607.8 1266.3 L615.7 1265.9 L623.7 1265.4 L631.7 1265.1 L639.7 1264.7 L647.8 1264.3 L655.8 1264.0 L663.9 1263.7 L672.1 1263.4 L680.2 1263.1 L688.3 1262.8 L696.5 1262.6 L704.7 1262.4 L712.9 1262.2 L721.1 1262.0 L729.3 1261.9 L737.6 1261.7 L745.8 1261.6 L754.1 1261.5 L762.3 1261.4 L770.6 1261.4 L778.8 1261.4 L787.1 1261.3 L795.4 1261.4 L803.6 1261.4 L811.9 1261.4 L820.1 1261.5 L828.4 1261.6 L836.6 1261.7 L844.9 1261.9 L853.1 1262.0 L861.3 1262.2 L869.5 1262.4 L877.7 1262.6 L885.9 1262.8 L894.0 1263.1 L902.1 1263.4 L910.3 1263.7 L918.4 1264.0 L926.4 1264.3 L934.5 1264.7 L942.5 1265.1 L950.5 1265.4 L958.5 1265.9 L966.4 1266.3 L974.3 1266.7 L982.2 1267.2 L990.0 1267.7 L997.8 1268.2 L1005.6 1268.7 L1013.3 1269.2 L1021.0 1269.7 L1028.7 1270.3 L1036.3 1270.9 L1043.9 1271.5 L1051.4 1272.1 L1058.9 1272.7 L1066.3 1273.3 L1073.7 1274.0 L1081.0 1274.6 L1088.3 1275.3 L1095.6 1275.9 L1102.7 1276.6 L1109.9 1277.3 L1117.0 1278.0 L1124.0 1278.8 L1130.9 1279.5 L1137.8 1280.2 L1144.7 1281.0 L1151.5 1281.7 L1158.2 1282.5 L1164.8 1283.2 L1171.4 1284.0 L1177.9 1284.8 L1184.4 1285.6 L1190.8 1286.4 L1197.1 1287.1 L1203.3 1287.9 L1209.5 1288.7 L1215.6 1289.5 L1221.7 1290.3 L1227.6 1291.1 L1233.5 1291.9 L1239.3 1292.7 L1245.0 1293.5 L1250.7 1294.3 L1256.2 1295.1 L1261.7 1295.9 L1267.1 1296.7 L1272.5 1297.5 L1277.7 1298.3 L1282.9 1299.1 L1287.9 1299.8 L1292.9 1300.6 L1297.8 1301.4 L1302.6 1302.1 L1307.4 1302.9 L1312.0 1303.6 L1316.6 1304.4 L1321.0 1305.1 L1325.4 1305.8 L1329.6 1306.5 L1333.8 1307.2 L1337.9 1307.9 L1341.9 1308.6 L1345.8 1309.2 L1349.6 1309.9 L1353.3 1310.5 L1356.9 1311.2 L1360.4 1311.8 L1363.8 1312.4 L1367.1 1313.0 L1370.3 1313.5 L1373.5 1314.1 L1376.5 1314.6 L1379.4 1315.2 L1382.2 1315.7 L1384.9 1316.2 L1387.5 1316.7 L1390.0 1317.1 L1392.4 1317.6 L1394.7 1318.0 L1396.9 1318.4 L1399.0 1318.8 L1401.0 1319.2 L1402.8 1319.5 L1404.6 1319.9 L1406.3 1320.2 L1407.8 1320.5 L1409.3 1320.7 L1410.6 1321.0 L1411.9 1321.2 L1413.0 1321.5 L1414.0 1321.7 L1414.9 1321.8 L1415.8 1322.0 L1416.5 1322.1 L1417.0 1322.2 L1417.5 1322.3 L1417.9 1322.4 L1418.2 1322.5 L1418.3 1322.5 L1418.4 1322.5" stroke="#000" stroke-width="9" stroke-dasharray="25.6 7.5 13.6 7.5"/>
<path d="M155.8 1322.5 L155.9 1322.5 L156.0 1322.5 L156.3 1322.5 L156.7 1322.4 L157.2 1322.4 L157.7 1322.4 L158.4 1322.3 L159.3 1322.2 L160.2 1322.2 L161.2 1322.1 L162.3 1322.0 L163.6 1321.9 L164.9 1321.8 L166.4 1321.6 L167.9 1321.5 L169.6 1321.3 L171.4 1321.1 L173.2 1320.9 L175.2 1320.7 L177.3 1320.5 L179.5 1320.2 L181.8 1319.9 L184.2 1319.6 L186.7 1319.3 L189.3 1319.0 L192.0 1318.6 L194.8 1318.3 L197.7 1317.9 L200.7 1317.5 L203.9 1317.1 L207.1 1316.6 L210.4 1316.2 L213.8 1315.7 L217.3 1315.2 L220.9 1314.7 L224.6 1314.2 L228.4 1313.6 L232.3 1313.1 L236.3 1312.5 L240.4 1311.9 L244.6 1311.3 L248.8 1310.7 L253.2 1310.1 L257.6 1309.5 L262.2 1308.8 L266.8 1308.2 L271.6 1307.5 L276.4 1306.9 L281.3 1306.2 L286.3 1305.5 L291.3 1304.8 L296.5 1304.1 L301.7 1303.5 L307.1 1302.8 L312.5 1302.1 L318.0 1301.3 L323.5 1300.6 L329.2 1299.9 L334.9 1299.2 L340.7 1298.5 L346.6 1297.8 L352.5 1297.1 L358.6 1296.4 L364.7 1295.7 L370.9 1295.0 L377.1 1294.3 L383.4 1293.6 L389.8 1292.9 L396.3 1292.2 L402.8 1291.5 L409.4 1290.8 L416.0 1290.1 L422.7 1289.4 L429.5 1288.8 L436.4 1288.1 L443.3 1287.4 L450.2 1286.8 L457.2 1286.2 L464.3 1285.5 L471.4 1284.9 L478.6 1284.3 L485.9 1283.7 L493.2 1283.1 L500.5 1282.5 L507.9 1281.9 L515.3 1281.4 L522.8 1280.8 L530.3 1280.3 L537.9 1279.8 L545.5 1279.3 L553.2 1278.8 L560.9 1278.3 L568.6 1277.8 L576.4 1277.4 L584.2 1276.9 L592.0 1276.5 L599.9 1276.1 L607.8 1275.7 L615.7 1275.3 L623.7 1274.9 L631.7 1274.6 L639.7 1274.3 L647.8 1274.0 L655.8 1273.7 L663.9 1273.4 L672.1 1273.1 L680.2 1272.9 L688.3 1272.6 L696.5 1272.4 L704.7 1272.2 L712.9 1272.1 L721.1 1271.9 L729.3 1271.8 L737.6 1271.6 L745.8 1271.5 L754.1 1271.4 L762.3 1271.4 L770.6 1271.3 L778.8 1271.3 L787.1 1271.3 L795.4 1271.3 L803.6 1271.3 L811.9 1271.4 L820.1 1271.4 L828.4 1271.5 L836.6 1271.6 L844.9 1271.8 L853.1 1271.9 L861.3 1272.1 L869.5 1272.2 L877.7 1272.4 L885.9 1272.6 L894.0 1272.9 L902.1 1273.1 L910.3 1273.4 L918.4 1273.7 L926.4 1274.0 L934.5 1274.3 L942.5 1274.6 L950.5 1274.9 L958.5 1275.3 L966.4 1275.7 L974.3 1276.1 L982.2 1276.5 L990.0 1276.9 L997.8 1277.4 L1005.6 1277.8 L1013.3 1278.3 L1021.0 1278.8 L1028.7 1279.3 L1036.3 1279.8 L1043.9 1280.3 L1051.4 1280.8 L1058.9 1281.4 L1066.3 1281.9 L1073.7 1282.5 L1081.0 1283.1 L1088.3 1283.7 L1095.6 1284.3 L1102.7 1284.9 L1109.9 1285.5 L1117.0 1286.2 L1124.0 1286.8 L1130.9 1287.4 L1137.8 1288.1 L1144.7 1288.8 L1151.5 1289.4 L1158.2 1290.1 L1164.8 1290.8 L1171.4 1291.5 L1177.9 1292.2 L1184.4 1292.9 L1190.8 1293.6 L1197.1 1294.3 L1203.3 1295.0 L1209.5 1295.7 L1215.6 1296.4 L1221.7 1297.1 L1227.6 1297.8 L1233.5 1298.5 L1239.3 1299.2 L1245.0 1299.9 L1250.7 1300.6 L1256.2 1301.3 L1261.7 1302.1 L1267.1 1302.8 L1272.5 1303.5 L1277.7 1304.1 L1282.9 1304.8 L1287.9 1305.5 L1292.9 1306.2 L1297.8 1306.9 L1302.6 1307.5 L1307.4 1308.2 L1312.0 1308.8 L1316.6 1309.5 L1321.0 1310.1 L1325.4 1310.7 L1329.6 1311.3 L1333.8 1311.9 L1337.9 1312.5 L1341.9 1313.1 L1345.8 1313.6 L1349.6 1314.2 L1353.3 1314.7 L1356.9 1315.2 L1360.4 1315.7 L1363.8 1316.2 L1367.1 1316.6 L1370.3 1317.1 L1373.5 1317.5 L1376.5 1317.9 L1379.4 1318.3 L1382.2 1318.6 L1384.9 1319.0 L1387.5 1319.3 L1390.0 1319.6 L1392.4 1319.9 L1394.7 1320.2 L1396.9 1320.5 L1399.0 1320.7 L1401.0 1320.9 L1402.8 1321.1 L1404.6 1321.3 L1406.3 1321.5 L1407.8 1321.6 L1409.3 1321.8 L1410.6 1321.9 L1411.9 1322.0 L1413.0 1322.1 L1414.0 1322.2 L1414.9 1322.2 L1415.8 1322.3 L1416.5 1322.4 L1417.0 1322.4 L1417.5 1322.4 L1417.9 1322.5 L1418.2 1322.5 L1418.3 1322.5 L1418.4 1322.5" stroke="#ff00ff" stroke-width="1.3"/>
<path d="M155.8 1322.5 L155.9 1322.5 L156.0 1322.5 L156.3 1322.5 L156.7 1322.5 L157.2 1322.4 L157.7 1322.4 L158.4 1322.4 L159.3 1322.3 L160.2 1322.3 L161.2 1322.2 L162.3 1322.2 L163.6 1322.1 L164.9 1322.0 L166.4 1321.9 L167.9 1321.8 L169.6 1321.7 L171.4 1321.6 L173.2 1321.5 L175.2 1321.3 L177.3 1321.2 L179.5 1321.0 L181.8 1320.8 L184.2 1320.6 L186.7 1320.4 L189.3 1320.2 L192.0 1320.0 L194.8 1319.8 L197.7 1319.5 L200.7 1319.2 L203.9 1319.0 L207.1 1318.7 L210.4 1318.4 L213.8 1318.1 L217.3 1317.7 L220.9 1317.4 L224.6 1317.1 L228.4 1316.7 L232.3 1316.3 L236.3 1316.0 L240.4 1315.6 L244.6 1315.2 L248.8 1314.8 L253.2 1314.4 L257.6 1314.0 L262.2 1313.6 L266.8 1313.1 L271.6 1312.7 L276.4 1312.3 L281.3 1311.8 L286.3 1311.4 L291.3 1310.9 L296.5 1310.5 L301.7 1310.0 L307.1 1309.6 L312.5 1309.1 L318.0 1308.6 L323.5 1308.2 L329.2 1307.7 L334.9 1307.2 L340.7 1306.8 L346.6 1306.3 L352.5 1305.8 L358.6 1305.4 L364.7 1304.9 L370.9 1304.4 L377.1 1304.0 L383.4 1303.5 L389.8 1303.1 L396.3 1302.6 L402.8 1302.1 L409.4 1301.7 L416.0 1301.2 L422.7 1300.8 L429.5 1300.4 L436.4 1299.9 L443.3 1299.5 L450.2 1299.1 L457.2 1298.7 L464.3 1298.2 L471.4 1297.8 L478.6 1297.4 L485.9 1297.0 L493.2 1296.6 L500.5 1296.3 L507.9 1295.9 L515.3 1295.5 L522.8 1295.2 L530.3 1294.8 L537.9 1294.5 L545.5 1294.1 L553.2 1293.8 L560.9 1293.5 L568.6 1293.2 L576.4 1292.9 L584.2 1292.6 L592.0 1292.3 L599.9 1292.0 L607.8 1291.8 L615.7 1291.5 L623.7 1291.3 L631.7 1291.0 L639.7 1290.8 L647.8 1290.6 L655.8 1290.4 L663.9 1290.2 L672.1 1290.1 L680.2 1289.9 L688.3 1289.8 L696.5 1289.6 L704.7 1289.5 L712.9 1289.4 L721.1 1289.3 L729.3 1289.2 L737.6 1289.1 L745.8 1289.0 L754.1 1289.0 L762.3 1288.9 L770.6 1288.9 L778.8 1288.9 L787.1 1288.9 L795.4 1288.9 L803.6 1288.9 L811.9 1288.9 L820.1 1289.0 L828.4 1289.0 L836.6 1289.1 L844.9 1289.2 L853.1 1289.3 L861.3 1289.4 L869.5 1289.5 L877.7 1289.6 L885.9 1289.8 L894.0 1289.9 L902.1 1290.1 L910.3 1290.2 L918.4 1290.4 L926.4 1290.6 L934.5 1290.8 L942.5 1291.0 L950.5 1291.3 L958.5 1291.5 L966.4 1291.8 L974.3 1292.0 L982.2 1292.3 L990.0 1292.6 L997.8 1292.9 L1005.6 1293.2 L1013.3 1293.5 L1021.0 1293.8 L1028.7 1294.1 L1036.3 1294.5 L1043.9 1294.8 L1051.4 1295.2 L1058.9 1295.5 L1066.3 1295.9 L1073.7 1296.3 L1081.0 1296.6 L1088.3 1297.0 L1095.6 1297.4 L1102.7 1297.8 L1109.9 1298.2 L1117.0 1298.7 L1124.0 1299.1 L1130.9 1299.5 L1137.8 1299.9 L1144.7 1300.4 L1151.5 1300.8 L1158.2 1301.2 L1164.8 1301.7 L1171.4 1302.1 L1177.9 1302.6 L1184.4 1303.1 L1190.8 1303.5 L1197.1 1304.0 L1203.3 1304.4 L1209.5 1304.9 L1215.6 1305.4 L1221.7 1305.8 L1227.6 1306.3 L1233.5 1306.8 L1239.3 1307.2 L1245.0 1307.7 L1250.7 1308.2 L1256.2 1308.6 L1261.7 1309.1 L1267.1 1309.6 L1272.5 1310.0 L1277.7 1310.5 L1282.9 1310.9 L1287.9 1311.4 L1292.9 1311.8 L1297.8 1312.3 L1302.6 1312.7 L1307.4 1313.1 L1312.0 1313.6 L1316.6 1314.0 L1321.0 1314.4 L1325.4 1314.8 L1329.6 1315.2 L1333.8 1315.6 L1337.9 1316.0 L1341.9 1316.3 L1345.8 1316.7 L1349.6 1317.1 L1353.3 1317.4 L1356.9 1317.7 L1360.4 1318.1 L1363.8 1318.4 L1367.1 1318.7 L1370.3 1319.0 L1373.5 1319.2 L1376.5 1319.5 L1379.4 1319.8 L1382.2 1320.0 L1384.9 1320.2 L1387.5 1320.4 L1390.0 1320.6 L1392.4 1320.8 L1394.7 1321.0 L1396.9 1321.2 L1399.0 1321.3 L1401.0 1321.5 L1402.8 1321.6 L1404.6 1321.7 L1406.3 1321.8 L1407.8 1321.9 L1409.3 1322.0 L1410.6 1322.1 L1411.9 1322.2 L1413.0 1322.2 L1414.0 1322.3 L1414.9 1322.3 L1415.8 1322.4 L1416.5 1322.4 L1417.0 1322.4 L1417.5 1322.5 L1417.9 1322.5 L1418.2 1322.5 L1418.3 1322.5 L1418.4 1322.5" stroke="#ff00ff" stroke-width="8.2" stroke-dasharray="12.3 8.6"/>
<path d="M155.8 1322.5L1418.4 1322.5" stroke="#000" stroke-width="9" stroke-dasharray="13.6 7.2" stroke-dashoffset="4.6"/>
</g>
<!-- axes -->
<g fill="#666"><rect x="216.6" y="1314.1" width="4.6" height="8.4"/><rect x="279.8" y="1314.1" width="4.6" height="8.4"/><rect x="342.9" y="1314.1" width="4.6" height="8.4"/><rect x="405.5" y="1309.0" width="5.6" height="13.5"/><rect x="469.1" y="1314.1" width="4.6" height="8.4"/><rect x="532.3" y="1314.1" width="4.6" height="8.4"/><rect x="595.4" y="1314.1" width="4.6" height="8.4"/><rect x="658.0" y="1309.0" width="5.6" height="13.5"/><rect x="721.7" y="1314.1" width="4.6" height="8.4"/><rect x="784.8" y="1314.1" width="4.6" height="8.4"/><rect x="847.9" y="1314.1" width="4.6" height="8.4"/><rect x="910.6" y="1309.0" width="5.6" height="13.5"/><rect x="974.2" y="1314.1" width="4.6" height="8.4"/><rect x="1037.3" y="1314.1" width="4.6" height="8.4"/><rect x="1100.5" y="1314.1" width="4.6" height="8.4"/><rect x="1163.1" y="1309.0" width="5.6" height="13.5"/><rect x="1226.7" y="1314.1" width="4.6" height="8.4"/><rect x="1289.8" y="1314.1" width="4.6" height="8.4"/><rect x="1353.0" y="1314.1" width="4.6" height="8.4"/><rect x="1415.6" y="1309.0" width="5.6" height="13.5"/></g>
<rect x="129.2" y="1320" width="1316.8" height="4.9" fill="#000"/>
<g fill="#666"><rect x="158" y="1320.0" width="11.0" height="5.4"/><rect x="158" y="1271.5" width="6.0" height="4.5"/><rect x="158" y="1222.6" width="6.0" height="4.5"/><rect x="158" y="1173.7" width="6.0" height="4.5"/><rect x="158" y="1124.8" width="6.0" height="4.5"/><rect x="158" y="1075.4" width="11.0" height="5.4"/><rect x="158" y="1026.9" width="6.0" height="4.5"/><rect x="158" y="978.0" width="6.0" height="4.5"/><rect x="158" y="929.1" width="6.0" height="4.5"/><rect x="158" y="880.2" width="6.0" height="4.5"/><rect x="158" y="830.8" width="11.0" height="5.4"/><rect x="158" y="782.3" width="6.0" height="4.5"/><rect x="158" y="733.4" width="6.0" height="4.5"/><rect x="158" y="684.5" width="6.0" height="4.5"/><rect x="158" y="635.6" width="6.0" height="4.5"/><rect x="158" y="586.2" width="11.0" height="5.4"/></g>
<rect x="153" y="549" width="5" height="815" fill="#000"/>
<g class="sans" font-size="84.5" text-anchor="middle" fill="#000"><text x="408.3" y="1410" textLength="113.5" lengthAdjust="spacingAndGlyphs">0.2</text><text x="660.8" y="1410" textLength="113.5" lengthAdjust="spacingAndGlyphs">0.4</text><text x="913.4" y="1410" textLength="113.5" lengthAdjust="spacingAndGlyphs">0.6</text><text x="1165.9" y="1410" textLength="113.5" lengthAdjust="spacingAndGlyphs">0.8</text><text x="1418.4" y="1410" textLength="113.5" lengthAdjust="spacingAndGlyphs">1.0</text></g>
<g class="sans" font-size="84.5" text-anchor="end" fill="#000" clip-path="url(#cy)"><text x="141.8" y="1107.9" textLength="114.5" lengthAdjust="spacingAndGlyphs">0.5</text><text x="141.8" y="863.3" textLength="114.5" lengthAdjust="spacingAndGlyphs">1.0</text><text x="141.8" y="618.7" textLength="114.5" lengthAdjust="spacingAndGlyphs">1.5</text></g>
<!-- axis labels -->
<text class="sans it" x="132" y="508" font-size="84">u</text>
<rect x="132.3" y="451.5" width="49.7" height="6.8" fill="#000"/>
<text class="sans it" x="1483" y="1354" font-size="86">ξ</text>
<!-- left legend -->
<text class="serif" x="342" y="75.3" font-size="55" textLength="153.5" lengthAdjust="spacingAndGlyphs">μ=0.15</text>
<text class="serif" x="262" y="157" font-size="56">λ</text>
<g stroke-width="9.6" fill="none">
<path d="M321 138.9H437" stroke="#0000ff"/>
<path d="M321 265.4H437" stroke="#ff0000"/>
<path d="M321 391.8H437" stroke="#00ff00"/>
<path d="M321 518.3H437" stroke="#ffff00"/>
<path d="M320 599.3H453" stroke="#ff00ff" stroke-width="1.3"/>
</g>
<g class="sans" font-size="55.5" fill="#000">
<text x="478.5" y="156" textLength="75" lengthAdjust="spacingAndGlyphs">0.2</text>
<text x="478.5" y="282.5" textLength="75" lengthAdjust="spacingAndGlyphs">0.4</text>
<text x="478.5" y="409" textLength="75" lengthAdjust="spacingAndGlyphs">0.8</text>
<text x="480" y="535.5">1</text>
</g>
<rect x="472.9" y="576.9" width="28" height="9.2" fill="#000"/>
<text class="sans it" x="473" y="620" font-size="48">u<tspan font-size="30" dy="6.8">lim</tspan></text>
<!-- right legend -->
<text class="serif" x="1462.3" y="73.3" font-size="55" textLength="153.5" lengthAdjust="spacingAndGlyphs">μ=0.30</text>
<text class="serif" x="1376.5" y="158" font-size="56">λ</text>
<g stroke-width="9.6" fill="none" stroke-dasharray="13.3 7.53">
<path d="M1421.7 140.3H1581.4" stroke="#0000ff"/>
<path d="M1421.7 266.8H1581.4" stroke="#ff0000"/>
<path d="M1421.7 393.6H1581.4" stroke="#00ff00"/>
<path d="M1421.7 520.6H1581.4" stroke="#ffff00"/>
<path d="M1425 608.3H1582.2" stroke="#ff00ff" stroke-width="8.3" stroke-dasharray="12 9"/>
<path d="M1424.9 818.3H1580" stroke="#000" stroke-dasharray="13.5 7.5 25.5 7.5"/>
<path d="M1424.9 945H1584.2" stroke="#000" stroke-dasharray="13 8"/>
</g>
<g class="sans" font-size="55.5" fill="#000">
<text x="1613.6" y="157.8" textLength="75" lengthAdjust="spacingAndGlyphs">0.2</text>
<text x="1613.6" y="284.5" textLength="75" lengthAdjust="spacingAndGlyphs">0.4</text>
<text x="1613.6" y="411" textLength="75" lengthAdjust="spacingAndGlyphs">0.8</text>
<text x="1615" y="537.8">1</text>
</g>
<rect x="1611.1" y="581.9" width="27.2" height="8.4" fill="#000"/>
<text class="sans it" x="1611.5" y="622" font-size="48">u<tspan font-size="30" dy="7">lim</tspan></text>
<rect x="1618" y="800.9" width="31" height="5" fill="#000"/>
<text class="sans it" x="1619" y="836.3" font-size="55">u<tspan font-size="41" dy="8">e</tspan></text>
<rect x="1618" y="927.3" width="31" height="5" fill="#000"/>
<text class="sans it" x="1619" y="962.8" font-size="55">u<tspan font-size="41" dy="10" font-style="normal">∞</tspan></text>
<!-- trim the foot serif of the digit one so it reads like a plain stroke -->
<g fill="#fff">
<rect x="31" y="611.5" width="17" height="8.5"/><rect x="56" y="611.5" width="15" height="8.5"/>
<rect x="31" y="855.5" width="17" height="8.5"/><rect x="56" y="855.5" width="15" height="8.5"/>
<rect x="1365" y="1402.5" width="17" height="8.5"/><rect x="1390" y="1402.5" width="15" height="8.5"/>
<rect x="481" y="530.5" width="13" height="6.5"/><rect x="499" y="530.5" width="11" height="6.5"/>
<rect x="1616" y="532.5" width="13" height="6.5"/><rect x="1634" y="532.5" width="11" height="6.5"/>
</g>
</svg>
</body></html>
